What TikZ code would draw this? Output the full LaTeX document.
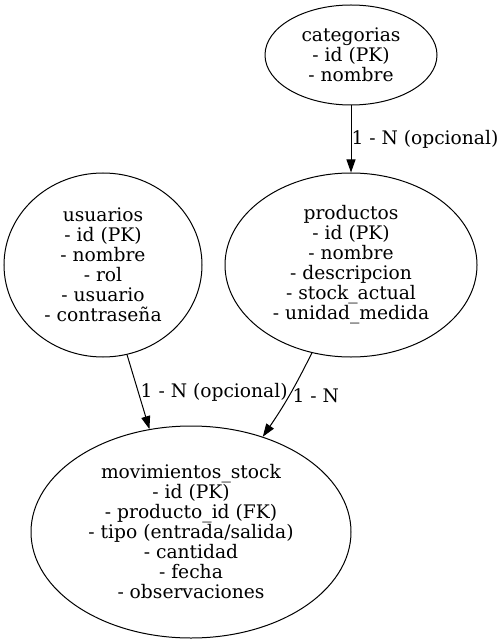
\documentclass[tikz,border=0pt]{standalone}
\usepackage{fontspec}
\setmainfont{DejaVu Serif}
\usetikzlibrary{shapes.geometric,arrows.meta}
\begin{document}
\begin{tikzpicture}[x=1pt,y=1pt,yscale=-1,xscale=1,
  tabla/.style={draw, ellipse, line width=1pt, inner sep=0pt, align=center, font=\fontsize{18.67}{20}\selectfont},
  rel/.style={line width=1pt, -{Triangle[length=13pt,width=9pt]}},
  etiq/.style={font=\fontsize{18.67}{20}\selectfont, inner sep=0pt, anchor=west}]
\useasboundingbox (0,0) rectangle (502,644);

%Shape: Ellipse [id:categorias]
\node[tabla, minimum width=172pt, minimum height=100pt] (categorias) at (351,55) {categorias\\- id (PK)\\- nombre};
%Shape: Ellipse [id:productos]
\node[tabla, minimum width=252pt, minimum height=184pt] (productos) at (351,265) {productos\\- id (PK)\\- nombre\\- descripcion\\- stock\_actual\\- unidad\_medida};
%Shape: Ellipse [id:usuarios]
\node[tabla, minimum width=198pt, minimum height=184pt] (usuarios) at (103,265) {usuarios\\- id (PK)\\- nombre\\- rol\\- usuario\\- contraseña};
%Shape: Ellipse [id:movimientos]
\node[tabla, minimum width=320pt, minimum height=212pt] (movimientos) at (191,532) {movimientos\_stock\\- id (PK)\\- producto\_id (FK)\\- tipo (entrada/salida)\\- cantidad\\- fecha\\- observaciones};

%Straight Lines [id:cat_prod]
\draw[rel] (categorias) -- (productos) node[etiq, midway] (lcat) {1 - N (opcional)};
%Straight Lines [id:usr_mov]
\draw[rel] (usuarios.-75) -- (movimientos.112) node[etiq, midway, xshift=2pt] (lusr) {1 - N (opcional)};
%Curve Lines [id:prod_mov]
\draw[rel] (productos.-114) to[bend right=4] node[etiq, midway, xshift=3pt] (lprod) {1 - N} (movimientos.53);
\end{tikzpicture}
\end{document}
